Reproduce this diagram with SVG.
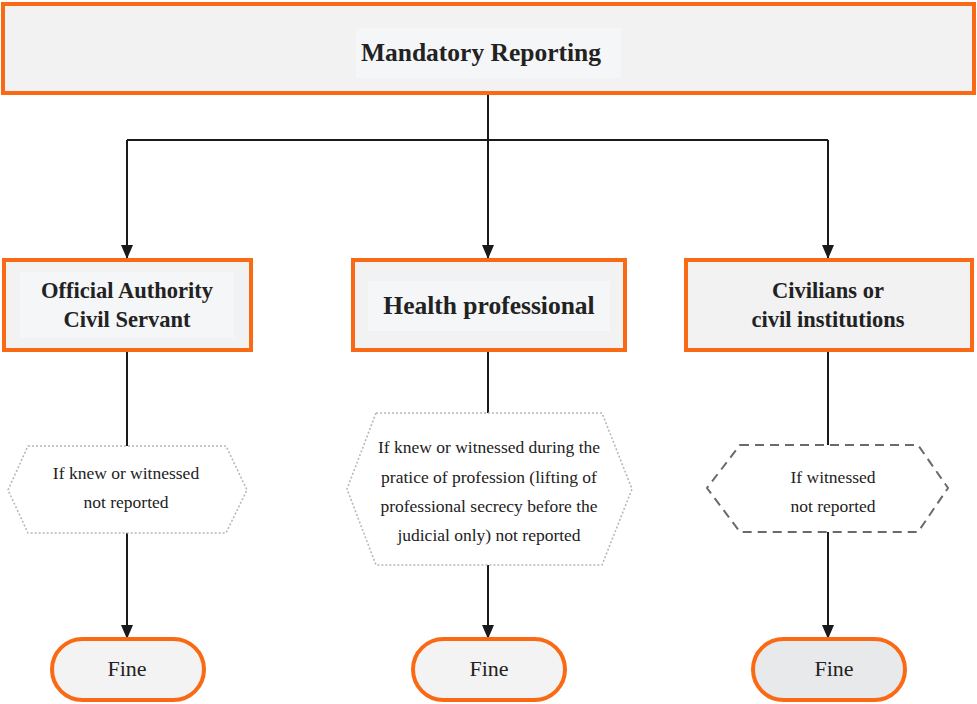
<svg xmlns="http://www.w3.org/2000/svg" width="977" height="704" viewBox="0 0 977 704">
  <defs>
    <marker id="arrow" markerWidth="14" markerHeight="12" refX="13" refY="6" orient="auto" markerUnits="userSpaceOnUse" viewBox="0 0 14 12">
      <path d="M0,0 L14,6 L0,12 Z" fill="#1a1a1a"/>
    </marker>
  </defs>
  <style>
    .box { fill: #f2f2f2; stroke: #fa6a14; stroke-width: 4; }
    .inner { fill: #f5f6f8; }
    .pill { fill: #f3f3f3; stroke: #fa6a14; stroke-width: 4; }
    .hex-dot { fill: #ffffff; stroke: #b8b8b8; stroke-width: 1.6; stroke-dasharray: 2 2; }
    .hex-dash { fill: #ffffff; stroke: #6a6a6a; stroke-width: 2; stroke-dasharray: 9 6; }
    .title { font-family: "Liberation Serif", "DejaVu Serif", serif; font-weight: bold; fill: #222; text-anchor: middle; }
    .cond { font-family: "Liberation Serif", "DejaVu Serif", serif; font-size: 17.5px; fill: #222; text-anchor: middle; }
    .fine { font-family: "Liberation Serif", "DejaVu Serif", serif; font-size: 22px; fill: #222; text-anchor: middle; }
    .wire { fill: none; stroke: #1a1a1a; stroke-width: 2; }
  </style>
  <rect width="977" height="704" fill="#ffffff"/>

  <!-- connectors -->
  <g id="connectors">
    <path class="wire" d="M488,94 V140"/>
    <path class="wire" d="M127,140 H828"/>
    <path class="wire" d="M127,140 V258" marker-end="url(#arrow)"/>
    <path class="wire" d="M488,140 V258" marker-end="url(#arrow)"/>
    <path class="wire" d="M828,140 V258" marker-end="url(#arrow)"/>
    <path class="wire" d="M127,351 V446"/>
    <path class="wire" d="M488,352 V413"/>
    <path class="wire" d="M828,352 V445"/>
    <path class="wire" d="M127,533 V638" marker-end="url(#arrow)"/>
    <path class="wire" d="M488,565 V638" marker-end="url(#arrow)"/>
    <path class="wire" d="M828,532 V638" marker-end="url(#arrow)"/>
  </g>

  <!-- root -->
  <g id="mandatory-reporting">
    <rect class="box" x="3" y="4" width="971" height="89"/>
    <rect class="inner" x="356" y="28" width="265" height="50"/>
    <text class="title" x="481" y="61" font-size="25.5">Mandatory Reporting</text>
  </g>

  <!-- reporter categories -->
  <g id="official-authority">
    <rect class="box" x="4" y="260" width="247" height="90"/>
    <rect class="inner" x="20" y="272" width="214" height="66"/>
    <text class="title" x="127" y="298" font-size="22.5">Official Authority</text>
    <text class="title" x="127" y="327" font-size="22.5">Civil Servant</text>
  </g>
  <g id="health-professional">
    <rect class="box" x="353" y="260" width="272" height="90"/>
    <rect class="inner" x="368" y="281" width="242" height="50"/>
    <text class="title" x="489" y="314" font-size="25.5">Health professional</text>
  </g>
  <g id="civilians">
    <rect class="box" x="686" y="260" width="286" height="90"/>
    <text class="title" x="828" y="298" font-size="22.5">Civilians or</text>
    <text class="title" x="828" y="327" font-size="22.5">civil institutions</text>
  </g>

  <!-- conditions -->
  <g id="condition-official">
    <polygon class="hex-dot" points="28,446 226,446 247,490 226,533 28,533 8,490"/>
    <text class="cond" x="126" y="479">If knew or witnessed</text>
    <text class="cond" x="126" y="508">not reported</text>
  </g>
  <g id="condition-health">
    <polygon class="hex-dot" points="376,413 602,413 632,489 602,565 376,565 347,489"/>
    <text class="cond" x="489" y="453">If knew or witnessed during the</text>
    <text class="cond" x="489" y="483">pratice of profession (lifting of</text>
    <text class="cond" x="489" y="512">professional secrecy before the</text>
    <text class="cond" x="489" y="541">judicial only) not reported</text>
  </g>
  <g id="condition-civilians">
    <polygon class="hex-dash" points="740,445 918,445 948,488 918,532 740,532 707,488"/>
    <text class="cond" x="833" y="483">If witnessed</text>
    <text class="cond" x="833" y="512">not reported</text>
  </g>

  <!-- outcomes -->
  <g id="fine-official">
    <rect class="pill" x="52" y="639" width="152" height="61" rx="30.5"/>
    <text class="fine" x="127" y="676">Fine</text>
  </g>
  <g id="fine-health">
    <rect class="pill" x="413" y="639" width="152" height="61" rx="30.5"/>
    <text class="fine" x="489" y="676">Fine</text>
  </g>
  <g id="fine-civilians">
    <rect class="pill" x="753" y="639" width="152" height="61" rx="30.5" style="fill:#e8e9eb"/>
    <text class="fine" x="834" y="676">Fine</text>
  </g>
</svg>
